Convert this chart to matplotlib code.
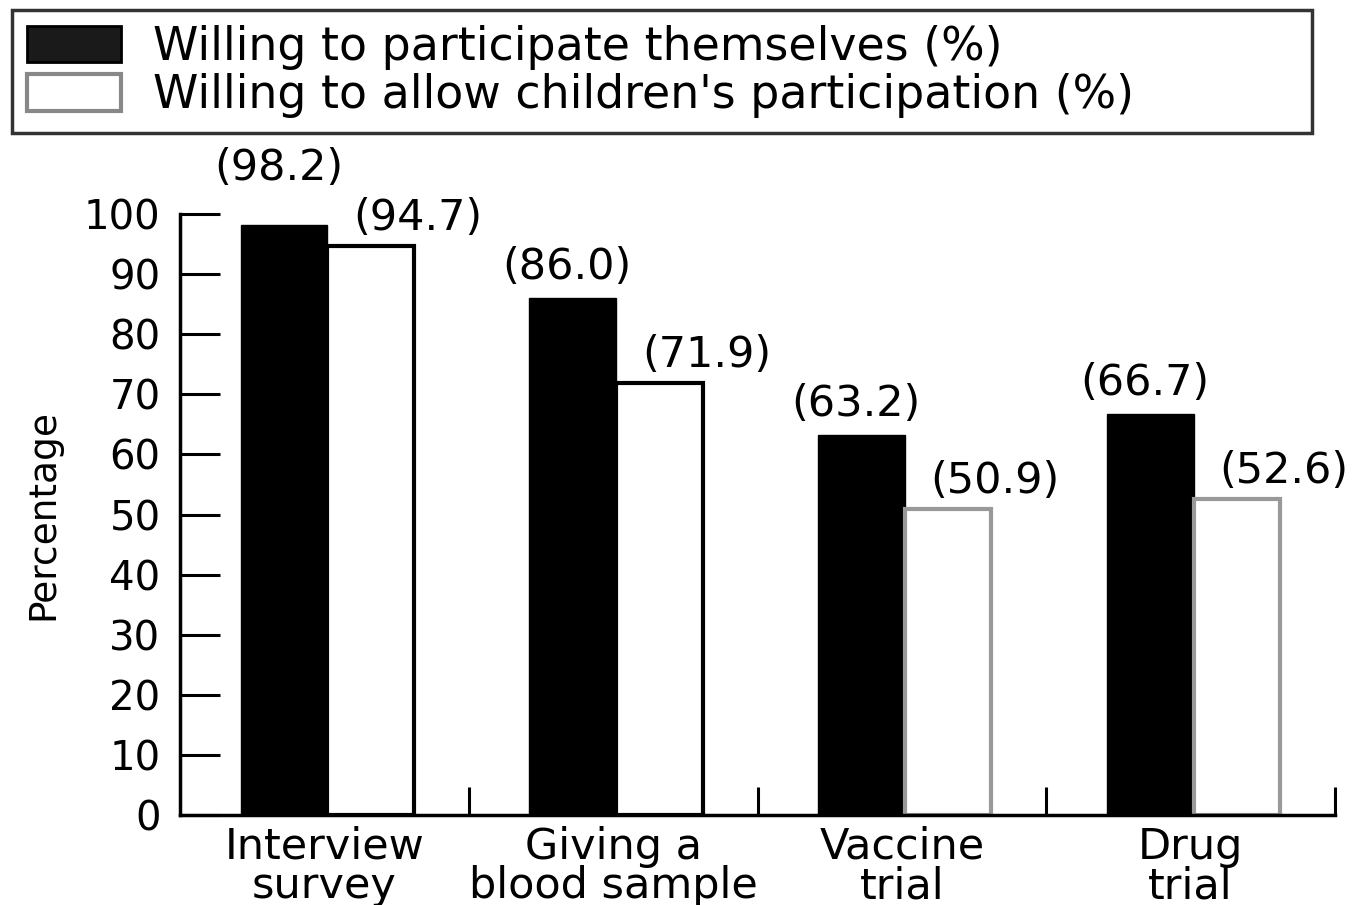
import matplotlib
matplotlib.use("Agg")
import matplotlib.pyplot as plt
import numpy as np
from matplotlib.patches import Patch

categories = ["Interview\nsurvey", "Giving a\nblood sample", "Vaccine\ntrial", "Drug\ntrial"]
self_pct = [98.2, 86.0, 63.2, 66.7]
child_pct = [94.7, 71.9, 50.9, 52.6]
series_names = ["Willing to participate themselves (%)",
                "Willing to allow children's participation (%)"]
yticks = [0, 10, 20, 30, 40, 50, 60, 70, 80, 90, 100]

plt.rcParams['font.family'] = ['DejaVu Sans']

fig = plt.figure(figsize=(13.68, 9.05), dpi=100)
ax = fig.add_axes([180/1368, 1-815/905, (1335-180)/1368, (815-214)/905])

x = np.arange(len(categories)) + 0.5
w = 0.30
child_edges = ['black', 'black', '#999999', '#999999']
b1 = ax.bar(x - w/2 + 0.01, self_pct, w, color='black', edgecolor='black', linewidth=1)
b2 = ax.bar(x + w/2 + 0.01, child_pct, w, color='white', edgecolor=child_edges, linewidth=3)

fs_val = 31
for i, (xi, v) in enumerate(zip(x, self_pct)):
    dy = 26 if i == 0 else 7
    ax.annotate(f"({v:.1f})", (xi - w/2 + 0.01, v), xytext=(-4, dy), textcoords='offset points',
                ha='center', va='bottom', fontsize=fs_val)
for i, (xi, v) in enumerate(zip(x, child_pct)):
    ax.annotate(f"({v:.1f})", (xi + w/2 + 0.01, v), xytext=(34, 5), textcoords='offset points',
                ha='center', va='bottom', fontsize=fs_val)

ax.set_xlim(0, 4)
ax.set_ylim(0, 100)
ax.set_yticks(yticks)
ax.set_yticklabels([str(t) for t in yticks], fontsize=29)
ax.tick_params(axis='y', direction='in', length=29, width=2.2, pad=14)

ax.set_xticks([1, 2, 3, 4])
ax.set_xticklabels([])
ax.tick_params(axis='x', direction='in', length=20, width=2.2)
for xi, c in zip(x, categories):
    ax.text(xi, -1.8, c, ha='center', va='top', fontsize=31, linespacing=0.92,
            transform=ax.transData)

for s in ['top', 'right']:
    ax.spines[s].set_visible(False)
for s in ['left', 'bottom']:
    ax.spines[s].set_linewidth(2.5)

ax.set_ylabel("Percentage", fontsize=27, labelpad=16)

handles = [Patch(facecolor='#1a1a1a', edgecolor='black', linewidth=2),
           Patch(facecolor='white', edgecolor='#888888', linewidth=3)]
leg = fig.legend(handles, series_names, loc='upper left', mode='expand',
                 bbox_to_anchor=(12/1368, 1-128/905, 1300/1368, 118/905),
                 bbox_transform=fig.transFigure,
                 fontsize=33, handlelength=2.05, handleheight=0.85,
                 labelspacing=0.08, borderpad=0.32, handletextpad=0.7,
                 borderaxespad=0, fancybox=False, frameon=True)
leg.get_frame().set_edgecolor('black')
leg.get_frame().set_linewidth(2.5)

fig.savefig("out.png", dpi=100)
